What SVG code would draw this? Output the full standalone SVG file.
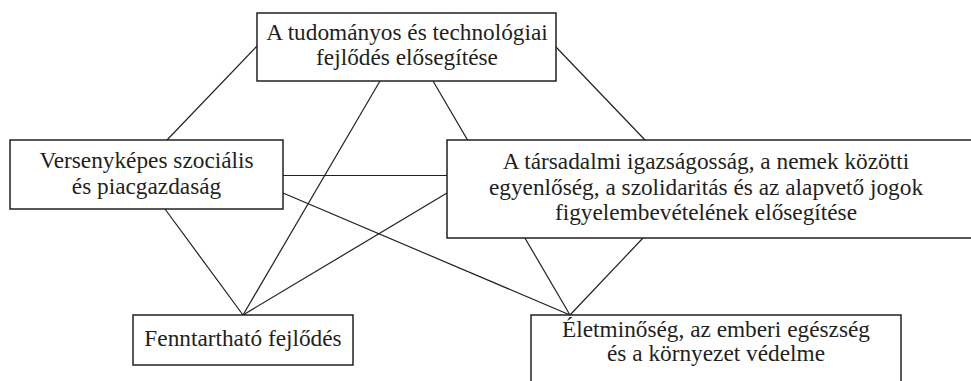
<svg xmlns="http://www.w3.org/2000/svg" width="971" height="381" viewBox="0 0 971 381">
<style>
.box{fill:#fff;stroke:#231f20;stroke-width:1.5}
.ln{stroke:#231f20;stroke-width:1.2;fill:none}
.t{font-family:'Liberation Serif','DejaVu Serif',serif;font-size:23.3px;fill:#231f20;text-anchor:middle}
</style>
<rect width="971" height="381" fill="#fff"/>
<g id="connectors">
<line class="ln" x1="257" y1="46" x2="167" y2="140"/>
<line class="ln" x1="556" y1="47" x2="645" y2="140"/>
<line class="ln" x1="380" y1="81" x2="243" y2="315"/>
<line class="ln" x1="433" y1="81" x2="570" y2="315"/>
<line class="ln" x1="283" y1="175.5" x2="447" y2="175.5"/>
<line class="ln" x1="283" y1="193" x2="570" y2="315"/>
<line class="ln" x1="165" y1="209" x2="243" y2="315"/>
<line class="ln" x1="447" y1="193" x2="243" y2="315"/>
<line class="ln" x1="643" y1="238" x2="570" y2="315"/>
</g>
<g id="node-tudomanyos">
<rect class="box" x="257" y="13" width="299" height="68"/>
<text class="t" x="407" y="39.5">A tudományos és technológiai</text>
<text class="t" x="407" y="65">fejlődés elősegítése</text>
</g>
<g id="node-versenykepes">
<rect class="box" x="10" y="140" width="273" height="69"/>
<text class="t" x="146.5" y="168">Versenyképes szociális</text>
<text class="t" x="146.5" y="193.5">és piacgazdaság</text>
</g>
<g id="node-tarsadalmi">
<rect class="box" x="447" y="140" width="530" height="98"/>
<text class="t" x="706" y="169">A társadalmi igazságosság, a nemek közötti</text>
<text class="t" x="706" y="194.5">egyenlőség, a szolidaritás és az alapvető jogok</text>
<text class="t" x="706" y="220">figyelembevételének elősegítése</text>
</g>
<g id="node-fenntarthato">
<rect class="box" x="133" y="315" width="220" height="50"/>
<text class="t" x="243" y="346">Fenntartható fejlődés</text>
</g>
<g id="node-eletminoseg">
<rect class="box" x="531" y="315" width="370" height="75"/>
<text class="t" x="716" y="336.5">Életminőség, az emberi egészség</text>
<text class="t" x="716" y="361">és a környezet védelme</text>
</g>
</svg>
